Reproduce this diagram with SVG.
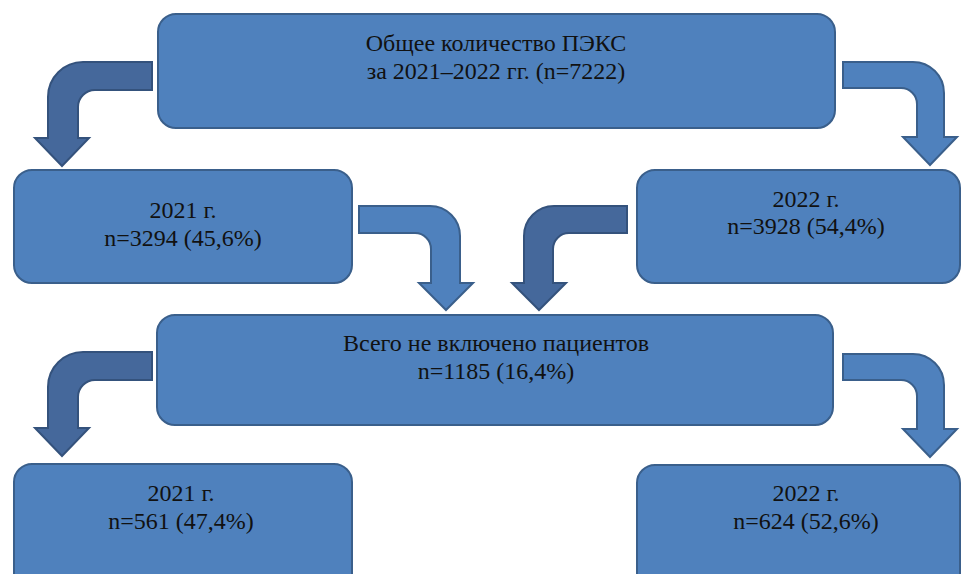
<svg xmlns="http://www.w3.org/2000/svg" width="964" height="574" viewBox="0 0 964 574">
<style>
.box{fill:#4f81bd;stroke:#3a5f8b;stroke-width:2}
.arr{fill:#4f81bd;stroke:#3a5f8b;stroke-width:2;stroke-linejoin:miter}
.arrd{fill:#45689b;stroke:#34527c;stroke-width:2;stroke-linejoin:miter}
text{font-family:"Liberation Serif","Times New Roman",serif;font-size:24px;fill:#111;text-anchor:middle}
</style>
<rect width="964" height="574" fill="#fff"/>
<g id="connectors">
<path class="arrd" d="M152,62 L83,62 A35,35 0 0 0 48,97 L48,138 L35,138 L62,166 L89,138 L78,138 L78,107 A17,17 0 0 1 95,90 L152,90 Z"/>
<path class="arr" d="M843,62 L913,62 A31,31 0 0 1 944,93 L944,137 L957,137 L930,165 L903,137 L917,137 L917,104 A16,16 0 0 0 901,88 L843,88 Z"/>
<path class="arr" d="M359,206 L430,206 A30,30 0 0 1 460,236 L460,283 L473,283 L446,310 L419,283 L431,283 L431,249 A16,16 0 0 0 415,233 L359,233 Z"/>
<path class="arrd" d="M627,206 L554,206 A30,30 0 0 0 524,236 L524,283 L512,283 L539,310 L566,283 L553,283 L553,249 A16,16 0 0 1 569,233 L627,233 Z"/>
<path class="arrd" transform="translate(0,290)" d="M152,62 L83,62 A35,35 0 0 0 48,97 L48,138 L35,138 L62,166 L89,138 L78,138 L78,107 A17,17 0 0 1 95,90 L152,90 Z"/>
<path class="arr" transform="translate(0,292)" d="M843,62 L913,62 A31,31 0 0 1 944,93 L944,137 L957,137 L930,165 L903,137 L917,137 L917,104 A16,16 0 0 0 901,88 L843,88 Z"/>
</g>
<g id="total">
<rect class="box" x="158" y="14" width="677" height="114" rx="18"/>
<text x="496" y="51">Общее количество ПЭКС</text>
<text x="496" y="79">за 2021–2022 гг. (n=7222)</text>
</g>
<g id="y2021">
<rect class="box" x="14" y="170" width="338" height="113" rx="18"/>
<text x="183" y="218">2021 г.</text>
<text x="183" y="246">n=3294 (45,6%)</text>
</g>
<g id="y2022">
<rect class="box" x="637" y="170" width="323" height="113" rx="18"/>
<text x="806" y="207">2022 г.</text>
<text x="806" y="234">n=3928 (54,4%)</text>
</g>
<g id="excluded">
<rect class="box" x="157" y="315" width="676" height="110" rx="18"/>
<text x="496" y="351">Всего не включено пациентов</text>
<text x="496" y="379">n=1185 (16,4%)</text>
</g>
<g id="ex2021">
<rect class="box" x="14" y="464" width="338" height="130" rx="18"/>
<text x="181" y="501">2021 г.</text>
<text x="181" y="529">n=561 (47,4%)</text>
</g>
<g id="ex2022">
<rect class="box" x="637" y="465" width="323" height="130" rx="18"/>
<text x="806" y="501">2022 г.</text>
<text x="806" y="529">n=624 (52,6%)</text>
</g>
</svg>
